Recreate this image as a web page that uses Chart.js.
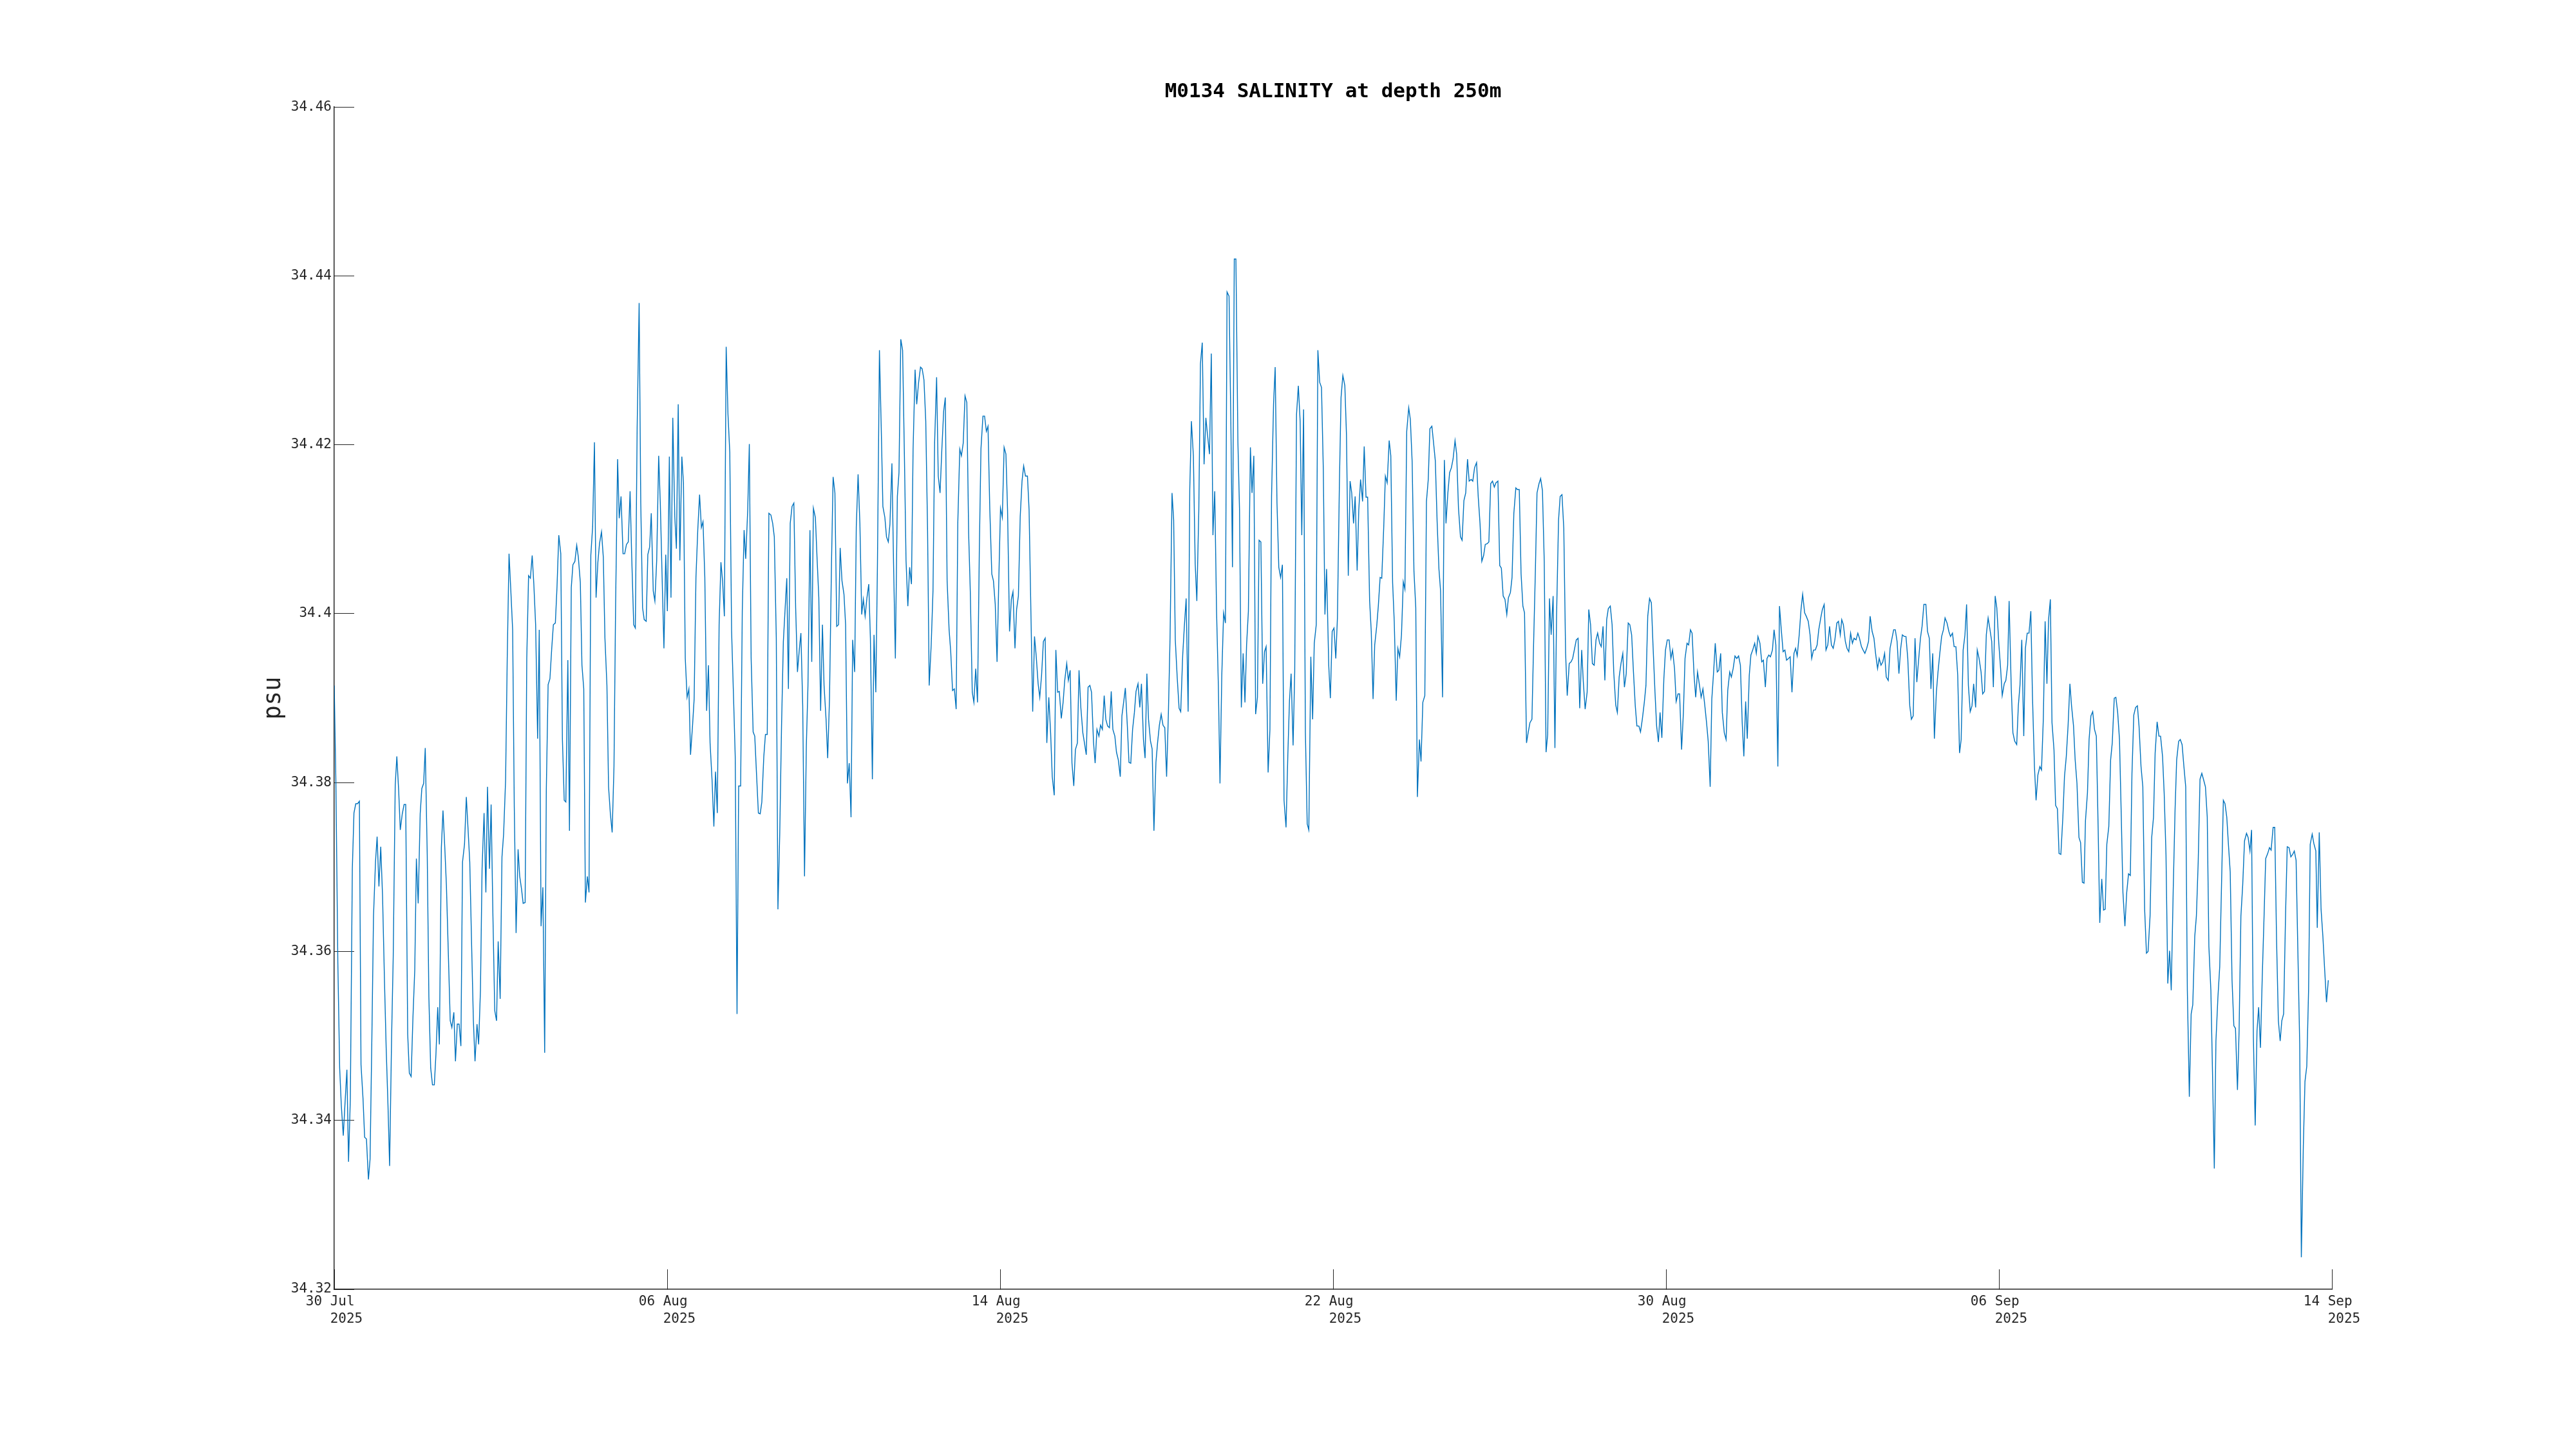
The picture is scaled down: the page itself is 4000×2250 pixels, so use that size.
<!DOCTYPE html>
<html>
<head>
<meta charset="utf-8">
<script src="https://cdn.jsdelivr.net/npm/chart.js@4.4.1/dist/chart.umd.min.js"></script>
<style>
  html, body { margin: 0; padding: 0; background: #ffffff; }
  #wrap { width: 4000px; height: 2250px; }
</style>
</head>
<body>
<div id="wrap"><canvas id="grafica" width="4000" height="2250"></canvas></div>
<script>
// hours since 30 Jul 2025 00:00
const hours = [
  0, 0.9, 2.0, 3.0, 3.9, 5.0, 5.9, 7.0, 7.9, 8.9,
  10.0, 10.9, 11.9, 12.9, 13.9, 14.8, 15.9, 16.8, 17.8, 18.9,
  19.8, 20.8, 21.7, 22.8, 23.7, 24.7, 25.7, 26.7, 27.8, 28.7,
  29.7, 30.6, 31.7, 32.6, 33.7, 34.6, 35.6, 36.5, 37.6, 38.6,
  39.5, 40.6, 41.5, 42.5, 43.5, 44.5, 45.4, 46.4, 47.5, 48.4,
  49.4, 50.3, 51.4, 52.3, 53.3, 54.3, 55.3, 56.2, 57.2, 58.1,
  59.2, 60.1, 61.1, 62.0, 63.1, 64.1, 65.0, 66.1, 67.0, 68.0,
  69.0, 70.0, 70.9, 72.0, 73.0, 73.9, 74.9, 75.9, 76.9, 77.8,
  78.9, 79.8, 80.8, 81.7, 82.8, 83.8, 84.7, 85.8, 86.7, 87.7,
  88.7, 89.7, 90.6, 91.7, 92.7, 93.6, 94.7, 95.6, 96.6, 97.6,
  98.6, 99.5, 100.5, 101.6, 102.5, 103.5, 104.4, 105.5, 106.4, 107.4,
  108.4, 109.4, 110.3, 111.3, 112.4, 113.3, 114.3, 115.3, 116.3, 117.2,
  118.2, 119.2, 120.2, 121.1, 122.2, 123.1, 124.1, 125.2, 126.1, 127.1,
  128.0, 129.1, 130.0, 131.0, 131.9, 133.0, 134.0, 134.9, 136.0, 136.9,
  137.9, 138.8, 139.9, 140.8, 141.8, 142.8, 143.8,
  144.7, 145.7, 146.6, 147.7, 148.7, 149.6, 150.7, 151.6, 152.6, 153.6,
  154.6, 155.5, 156.6, 157.5, 158.5, 159.6, 160.5, 161.5, 162.5, 163.5,
  164.4, 165.5, 166.4, 167.4, 168.5, 169.4, 170.4, 171.3, 172.4, 173.3,
  174.3, 175.2, 176.3, 177.2, 178.2, 179.3, 180.2, 181.2, 182.2, 183.2,
  184.1, 185.2, 186.1, 187.1, 188.2, 189.1, 190.1, 191.0, 192.1, 193.0,
  194.0, 195.0, 196.0, 196.9, 198.0, 198.9, 199.9, 200.9, 201.9, 202.9,
  203.8, 204.8, 205.8, 206.8, 207.7, 208.8, 209.8, 210.7, 211.7, 212.7,
  213.7, 214.6, 215.6, 216.6, 217.6, 218.6, 219.6, 220.7, 221.6, 222.6,
  223.5, 224.6, 225.5, 226.5, 227.4, 228.5, 229.4, 230.4, 231.5, 232.4,
  233.4, 234.4, 235.4, 236.3, 237.4, 238.3, 239.3, 240.2, 241.3, 242.3,
  243.2, 244.3, 245.2, 246.2, 247.2, 248.2, 249.1, 250.1, 251.0, 252.0,
  253.0, 254.0, 255.0, 256.0, 257.0, 257.9, 258.9, 259.9, 260.9, 261.8,
  262.9, 263.9, 264.8, 265.9, 266.8, 267.8, 268.8, 269.8, 270.7, 271.8,
  272.7, 273.7, 274.8, 275.7, 276.7, 277.7, 278.7, 279.6, 280.6, 281.7,
  282.6, 283.6, 284.6, 285.6, 286.5, 287.6, 288.5, 289.5, 290.5, 291.5,
  292.4, 293.4, 294.4, 295.4, 296.3, 297.4, 298.3, 299.3, 300.2, 301.3,
  302.3, 303.2, 304.3, 305.2, 306.2, 307.1, 308.2, 309.1, 310.1, 311.2,
  312.1, 313.1, 314.1, 315.1, 316.0, 317.0, 318.0, 319.0, 319.9, 321.0,
  321.9, 322.9, 324.0, 324.9, 325.9, 326.9, 327.9, 328.8, 329.9, 330.9,
  331.8, 332.9, 333.8, 334.8, 335.8, 336.8, 337.7, 338.7, 339.8, 340.7,
  341.7, 342.7, 343.7, 344.6, 345.7, 346.6, 347.6, 348.6, 349.6, 350.6,
  351.5, 352.6, 353.5, 354.5, 355.5, 356.5, 357.4, 358.5, 359.4, 360.4,
  361.3, 362.3, 363.4, 364.3, 365.3, 366.3, 367.3, 368.2, 369.2, 370.2,
  371.2, 372.1, 373.2, 374.2, 375.1, 376.2, 377.1, 378.1, 379.1, 380.1,
  381.0, 382.0, 383.1, 384.0, 385.0, 386.0, 387.0, 387.9, 389.0, 389.9,
  390.9, 391.9, 392.9, 393.8, 394.9, 395.9, 396.8, 397.9, 398.8, 399.8,
  400.7, 401.8, 402.8, 403.7, 404.8, 405.7, 406.7, 407.7, 408.7, 409.6,
  410.7, 411.6, 412.6, 413.7, 414.6, 415.6, 416.6, 417.6, 418.5, 419.6,
  420.5, 421.5, 422.6, 423.5, 424.5, 425.5,
  426.4, 427.4, 428.4, 429.4, 430.3, 431.4, 432.3, 433.3, 434.4, 435.3,
  436.3, 437.2, 438.3, 439.2, 440.2, 441.2, 442.2, 443.1, 444.2, 445.2,
  446.1, 447.2, 448.1, 449.1, 450.0, 451.1, 452.0, 453.0, 454.1, 455.0,
  456.0, 457.0, 458.0, 459.0, 460.0, 461.0, 461.9, 463.0, 463.9, 464.8,
  465.9, 466.9, 467.8, 468.9, 469.8, 470.8, 471.9, 472.8, 473.7, 474.8,
  475.8, 476.7, 477.8, 478.7, 479.7, 480.7, 481.7, 482.6, 483.7, 484.7,
  485.6, 486.6, 487.6, 488.6, 489.5, 490.5, 491.5, 492.5, 493.4, 494.5,
  495.5, 496.4, 497.4, 498.3, 499.4, 500.3, 501.3, 502.3, 503.3, 504.2,
  505.2, 506.3, 507.2, 508.2, 509.2, 510.2, 511.1, 512.1, 513.1, 514.1,
  515.0, 516.1, 517.1, 518.0, 519.1, 520.0, 521.0, 522.0, 523.0, 524.0,
  524.9, 526.0, 527.0, 527.9, 528.8, 529.9, 530.8, 531.8, 532.8, 533.8,
  534.7, 535.7, 536.7, 537.7, 538.6, 539.7, 540.7, 541.6, 542.7, 543.6,
  544.6, 545.6, 546.6, 547.5, 548.4, 549.6, 550.5, 551.5, 552.5, 553.5,
  554.4, 555.5, 556.4, 557.4, 558.5, 559.4, 560.4,
  561.4, 562.3, 563.3, 564.2, 565.3, 566.2, 567.2, 568.3, 569.2, 570.2,
  571.1, 572.2, 573.1, 574.1, 575.0, 576.1, 577.0, 578.0, 578.9, 580.0,
  580.9, 581.9, 583.0, 583.9, 584.9, 585.8, 586.9, 587.8, 588.8, 589.8,
  590.8, 591.7, 592.7, 593.8, 594.7, 595.7, 596.7, 597.7, 598.6, 599.7,
  600.6, 601.6, 602.7, 603.6, 604.6, 605.5, 606.6, 607.5, 608.5, 609.5,
  610.5, 611.4, 612.5, 613.5, 614.4, 615.4, 616.4, 617.4, 618.3, 619.4,
  620.3, 621.3, 622.4, 623.3, 624.3, 625.3, 626.3, 627.2, 628.3, 629.2,
  630.2, 631.3, 632.2, 633.2, 634.2, 635.2, 636.1, 637.2, 638.1, 639.1,
  640.1, 641.1, 642.0, 643.1, 644.1, 645.0, 646.0, 647.0, 648.0, 648.9,
  650.0, 650.9, 651.9, 653.0, 653.9, 654.9, 655.9, 656.9, 657.8, 658.9,
  659.8, 660.8, 661.9, 662.8, 663.8, 664.7, 665.8, 666.7, 667.7, 668.7,
  669.7, 670.6, 671.6, 672.5, 673.6, 674.6, 675.5, 676.6, 677.5, 678.5,
  679.5, 680.5, 681.4, 682.5, 683.5, 684.4, 685.5, 686.4, 687.4, 688.3,
  689.4, 690.3, 691.3, 692.4, 693.3, 694.3, 695.3, 696.3,
  697.3, 698.2, 699.3, 700.2, 701.2, 702.2, 703.2, 704.1, 705.2, 706.2,
  707.1, 708.2, 709.1, 710.1, 711.1, 712.1, 713.0, 714.0, 715.1, 716.0,
  717.0, 718.0, 719.0, 719.9, 721.0, 721.9, 722.9, 724.0, 724.9, 725.9,
  726.9, 727.9, 728.8, 729.9, 730.8, 731.8, 732.7, 733.7, 734.8, 735.7,
  736.7, 737.7, 738.7, 739.6, 740.7, 741.6, 742.6, 743.5, 744.6, 745.6,
  746.5, 747.6, 748.5, 749.5, 750.4, 751.5, 752.4, 753.4, 754.5, 755.4,
  756.4, 757.4, 758.4, 759.3, 760.4, 761.3, 762.3, 763.2, 764.3, 765.2,
  766.2, 767.1, 768.2, 769.2, 770.1, 771.2, 772.1, 773.1, 774.1, 775.1,
  776.1, 777.1, 778.1, 779.0, 780.0, 780.9, 782.0, 782.9, 783.9, 785.0,
  785.9, 786.8, 787.9, 788.9, 789.8, 790.9, 791.8, 792.8, 793.7, 794.8,
  795.7, 796.7, 797.8, 798.7, 799.7, 800.7, 801.7, 802.6, 803.7, 804.6,
  805.6, 806.7, 807.6, 808.5, 809.6, 810.6, 811.5, 812.6, 813.5, 814.6,
  815.6, 816.5, 817.5, 818.5, 819.5, 820.4, 821.5, 822.4, 823.4, 824.4,
  825.4, 826.4, 827.4, 828.4, 829.3, 830.4, 831.3, 832.3,
  833.1, 834.0, 835.1, 836.0, 837.0, 838.0, 839.0, 839.9, 841.0, 842.0,
  842.9, 844.0, 844.9, 845.9, 846.9, 847.9, 848.8, 849.9, 850.9, 851.8,
  852.9, 853.8, 854.8, 855.8, 856.8, 857.7, 858.8, 859.8, 860.7, 861.8,
  862.7, 863.7, 864.7, 865.7, 866.6, 867.7, 868.6, 869.6, 870.7, 871.6,
  872.6, 873.6, 874.6, 875.5, 876.6, 877.5, 878.5, 879.6, 880.5, 881.5,
  882.4, 883.4, 884.3, 885.4, 886.3, 887.3, 888.3, 889.3, 890.2, 891.3,
  892.3, 893.2, 894.3, 895.2, 896.2, 897.2, 898.2, 899.1, 900.2, 901.2,
  902.1, 903.1, 904.1, 905.1, 906.0, 907.1, 908.0, 909.0, 910.1, 911.0,
  912.0, 913.0, 914.0, 914.9, 916.0, 916.9, 917.9, 918.8, 919.9, 920.9,
  921.8, 922.9, 923.8, 924.8, 925.6, 926.8, 927.7, 928.7, 929.8, 930.7,
  931.6, 932.6, 933.7, 934.6, 935.6, 936.6, 937.6, 938.5, 939.6, 940.5,
  941.5, 942.6, 943.5, 944.5, 945.5, 946.5, 947.4, 948.4, 949.3, 950.4,
  951.3, 952.3, 953.2, 954.2, 955.3, 956.2, 957.2, 958.2, 959.2, 960.1,
  961.2, 962.1, 963.1, 964.2, 965.1, 966.1, 967.0,
  967.8, 968.9, 969.8, 970.8, 971.8, 972.8, 973.8, 974.8, 975.7, 976.8,
  977.8, 978.7, 979.6, 980.7, 981.7, 982.6, 983.7, 984.6, 985.6, 986.6,
  987.6, 988.5, 989.6, 990.6, 991.6, 992.6, 993.5, 994.5, 995.5, 996.5,
  997.4, 998.5, 999.5, 1000.5, 1001.5, 1002.4, 1003.5, 1004.4, 1005.4, 1006.3,
  1007.4, 1008.4, 1009.3, 1010.4, 1011.3, 1012.3, 1013.3, 1014.3, 1015.2, 1016.3,
  1017.3, 1018.2, 1019.3, 1020.2, 1021.2, 1022.2, 1023.2, 1024.1, 1025.2, 1026.2,
  1027.1, 1028.2, 1029.1, 1030.1, 1031.1, 1032.1, 1033.0, 1034.1, 1035.1, 1036.0,
  1037.1, 1038.0, 1039.0, 1039.9, 1041.0, 1042.0, 1042.9, 1044.0, 1044.9, 1045.9,
  1046.8, 1047.8, 1048.8, 1049.8, 1050.7, 1051.8, 1052.7, 1053.7, 1054.7, 1055.7,
  1056.8, 1057.7, 1058.7, 1059.6, 1060.6, 1061.6, 1062.6, 1063.5, 1064.5, 1065.5,
  1066.5, 1067.4, 1068.5, 1069.5, 1070.4, 1071.5, 1072.4, 1073.4, 1074.4, 1075.4,
  1076.3, 1077.3, 1078.4, 1079.3, 1080.3, 1081.3, 1082.3, 1083.2, 1084.2, 1085.2,
  1086.2, 1087.1, 1088.2, 1089.1, 1090.1, 1091.1, 1092.0, 1093.1, 1094.0, 1095.1,
  1095.9, 1097.0, 1098.0, 1099.0, 1100.0, 1101.0, 1102.0
];

// salinity in psu
const salinity = [
  34.3915, 34.3803, 34.3586, 34.3462, 34.3418, 34.3382, 34.3418, 34.346, 34.3351, 34.3426,
  34.3698, 34.3764, 34.3775, 34.3775, 34.3778, 34.3466, 34.3426, 34.338, 34.3378, 34.333,
  34.3354, 34.3498, 34.3642, 34.3706, 34.3736, 34.3677, 34.3724, 34.3666, 34.3562, 34.3486,
  34.3418, 34.3346, 34.3498, 34.3594, 34.3797, 34.3831, 34.3791, 34.3744, 34.3763, 34.3774,
  34.3774, 34.3502, 34.3456, 34.3452, 34.3522, 34.3578, 34.371, 34.3657, 34.3763, 34.3793,
  34.3799, 34.3841, 34.3714, 34.3546, 34.3462, 34.3442, 34.3442, 34.3478, 34.3534, 34.349,
  34.3723, 34.3767, 34.3723, 34.3678, 34.3594, 34.3518, 34.351, 34.3528, 34.347, 34.3514,
  34.3514, 34.3488, 34.3706, 34.3727, 34.3783, 34.3747, 34.3706, 34.361, 34.3518, 34.347,
  34.3514, 34.349, 34.3554, 34.3698, 34.3764, 34.367, 34.3795, 34.3698, 34.3774, 34.3642,
  34.353, 34.3518, 34.3612, 34.3544, 34.3712, 34.3739, 34.3803, 34.3947, 34.4071, 34.4027,
  34.3981, 34.3771, 34.3622, 34.3721, 34.3689, 34.3674, 34.3657, 34.3658, 34.3947, 34.4045,
  34.4042, 34.4069, 34.4035, 34.3987, 34.3852, 34.3981, 34.363, 34.3676, 34.348, 34.3791,
  34.3916, 34.3923, 34.3959, 34.3987, 34.3989, 34.4031, 34.4093, 34.4071, 34.3851, 34.3779,
  34.3777, 34.3945, 34.3743, 34.4031, 34.4058, 34.4062, 34.4081, 34.4067, 34.4037, 34.3939,
  34.3911, 34.3658, 34.3689, 34.367, 34.4069, 34.4103, 34.4203,
  34.4019, 34.4061, 34.4083, 34.4097, 34.4067, 34.3971, 34.3915, 34.3795, 34.3763, 34.3741,
  34.3819, 34.4011, 34.4183, 34.4113, 34.4139, 34.4071, 34.4071, 34.4082, 34.4085, 34.4145,
  34.4067, 34.3987, 34.3983, 34.422, 34.4368, 34.4131, 34.4007, 34.3993, 34.3991, 34.407,
  34.4079, 34.4119, 34.4027, 34.4015, 34.4063, 34.4187, 34.4131, 34.4043, 34.3959, 34.407,
  34.4003, 34.4186, 34.4019, 34.4232, 34.4115, 34.4077, 34.4248, 34.4063, 34.4186, 34.4155,
  34.3947, 34.3901, 34.3911, 34.3833, 34.3867, 34.3899, 34.4043, 34.4099, 34.4141, 34.4102,
  34.4109, 34.4043, 34.3885, 34.3939, 34.3847, 34.3803, 34.3748, 34.3813, 34.3764, 34.3987,
  34.4061, 34.4039, 34.3997, 34.4316, 34.4236, 34.4191, 34.3979, 34.3899, 34.3831, 34.3526,
  34.3796, 34.3796, 34.4003, 34.4099, 34.4065, 34.4123, 34.4201, 34.3947, 34.386, 34.3855,
  34.3809, 34.3764, 34.3763, 34.3777, 34.3831, 34.3857, 34.3857, 34.4119, 34.4117, 34.4107,
  34.4091, 34.3971, 34.365, 34.3739, 34.3867, 34.3967, 34.4003, 34.4042, 34.3911, 34.4107,
  34.4127, 34.4131, 34.4007, 34.3931, 34.3957, 34.3977, 34.3891, 34.3689, 34.3843, 34.3915,
  34.4099, 34.3943, 34.4125, 34.4114, 34.4067, 34.4019, 34.3885, 34.3987, 34.3915, 34.3875,
  34.3829, 34.3899, 34.4059, 34.4162, 34.4143, 34.3985, 34.3987, 34.4078, 34.4039, 34.4023,
  34.3987, 34.3799, 34.3823, 34.3759, 34.3969, 34.3931, 34.4103, 34.4165, 34.4107, 34.3999,
  34.4017, 34.3997, 34.4019, 34.4035, 34.3971, 34.3804, 34.3975, 34.3907, 34.4059, 34.4312,
  34.422, 34.4127, 34.4114, 34.4091, 34.4085, 34.4106, 34.4178, 34.4059, 34.3947, 34.4139,
  34.4167, 34.4325, 34.4312, 34.4187, 34.4063, 34.4009, 34.4055, 34.4035, 34.4195, 34.4289,
  34.4248, 34.4273, 34.4292, 34.429, 34.4277, 34.4228, 34.4099, 34.3915, 34.3963, 34.4027,
  34.4203, 34.428, 34.4163, 34.4143, 34.4195, 34.424, 34.4256, 34.4039, 34.3981, 34.3955,
  34.3909, 34.3911, 34.3887, 34.4107, 34.4195, 34.4187, 34.4202, 34.4258, 34.425, 34.4095,
  34.4027, 34.3907, 34.3895, 34.3935, 34.3895, 34.4075, 34.4195, 34.4234, 34.4234, 34.4216,
  34.4222, 34.4123, 34.4047, 34.4039, 34.4011, 34.3943, 34.4043, 34.4125, 34.4114, 34.4197,
  34.4189, 34.4123, 34.3979, 34.4017, 34.4026, 34.3959, 34.4005, 34.4021, 34.4115, 34.4157,
  34.4175, 34.4163, 34.4163, 34.4123, 34.4003, 34.3884, 34.3973, 34.3951, 34.3917, 34.3901,
  34.3927, 34.3967, 34.3971, 34.3847, 34.3901, 34.3859, 34.3807, 34.3785, 34.3957, 34.3907,
  34.3908, 34.3876, 34.3895, 34.3921, 34.3941, 34.3921, 34.3933, 34.3823, 34.3796, 34.3839,
  34.3847, 34.3933, 34.3889, 34.3859, 34.3847, 34.3833, 34.3913, 34.3915, 34.3907, 34.3848,
  34.3823, 34.3863, 34.3855, 34.3868, 34.3863, 34.3903,
  34.3875, 34.3867, 34.3865, 34.3908, 34.3863, 34.3855, 34.3836, 34.3827, 34.3807, 34.3879,
  34.3896, 34.3912, 34.3867, 34.3824, 34.3823, 34.3863, 34.3883, 34.3908, 34.3917, 34.3889,
  34.3917, 34.3851, 34.3829, 34.3929, 34.3875, 34.3849, 34.384, 34.3743, 34.3824, 34.3847,
  34.3868, 34.3881, 34.3868, 34.3865, 34.3807, 34.3883, 34.3971, 34.4143, 34.4111, 34.3969,
  34.3923, 34.3888, 34.3884, 34.3951, 34.3985, 34.4018, 34.3884, 34.4147, 34.4228, 34.4187,
  34.4059, 34.4015, 34.4123, 34.4296, 34.4321, 34.4177, 34.4232, 34.4212, 34.4189, 34.4308,
  34.4093, 34.4145, 34.4003, 34.3915, 34.3799, 34.3927, 34.4001, 34.3989, 34.4381, 34.4376,
  34.4228, 34.4055, 34.442, 34.442, 34.4203, 34.4123, 34.3889, 34.3953, 34.3895, 34.3963,
  34.4003, 34.4197, 34.4143, 34.4187, 34.3881, 34.3901, 34.4087, 34.4085, 34.3917, 34.3955,
  34.3961, 34.3812, 34.3863, 34.4139, 34.4248, 34.4292, 34.4131, 34.4055, 34.4043, 34.4058,
  34.3779, 34.3747, 34.3833, 34.3897, 34.3929, 34.3844, 34.3931, 34.4236, 34.427, 34.4228,
  34.4093, 34.4242, 34.3859, 34.3751, 34.3744, 34.3949, 34.3875, 34.3965, 34.3987, 34.4312,
  34.4274, 34.4268, 34.4171, 34.3999, 34.4053, 34.3939, 34.39, 34.3979, 34.3983, 34.3947,
  34.3995, 34.4155, 34.4256, 34.4282, 34.427, 34.4212, 34.4045,
  34.4157, 34.4143, 34.4107, 34.4139, 34.4051, 34.4123, 34.4159, 34.4133, 34.4198, 34.4138,
  34.4138, 34.4015, 34.3979, 34.3899, 34.3963, 34.3985, 34.4009, 34.4043, 34.4042, 34.4103,
  34.4163, 34.4155, 34.4205, 34.4187, 34.4037, 34.3991, 34.3897, 34.3959, 34.3949, 34.3975,
  34.4038, 34.4029, 34.4216, 34.4244, 34.423, 34.418, 34.405, 34.4007, 34.3783, 34.3851,
  34.3825, 34.3895, 34.3903, 34.4133, 34.4159, 34.4219, 34.4222, 34.4203, 34.4181, 34.4109,
  34.4053, 34.4027, 34.3901, 34.4182, 34.4107, 34.4142, 34.4167, 34.4173, 34.4183, 34.4205,
  34.4189, 34.4125, 34.4091, 34.4087, 34.4134, 34.4143, 34.4183, 34.4157, 34.4159, 34.4157,
  34.4173, 34.4179, 34.4139, 34.4107, 34.4062, 34.4069, 34.4082, 34.4083, 34.4085, 34.4154,
  34.4157, 34.415, 34.4155, 34.4157, 34.4057, 34.4054, 34.4021, 34.4017, 34.3999, 34.4019,
  34.4025, 34.4043, 34.4119, 34.4149, 34.4147, 34.4147, 34.4047, 34.4009, 34.4001, 34.3847,
  34.3859, 34.3871, 34.3875, 34.3963, 34.4051, 34.4143, 34.4154, 34.416, 34.4146, 34.4062,
  34.3836, 34.3857, 34.4018, 34.3975, 34.4021, 34.3841, 34.3997, 34.4111, 34.4139, 34.4141,
  34.4101, 34.3953, 34.3903, 34.3941, 34.3943, 34.3947, 34.3959, 34.3969, 34.3971, 34.3888,
  34.3957, 34.3919, 34.3887, 34.3907, 34.4005, 34.3987, 34.3941, 34.3939,
  34.3969, 34.3977, 34.3965, 34.3961, 34.3985, 34.3921, 34.3993, 34.4006, 34.4009, 34.3987,
  34.3931, 34.3892, 34.3883, 34.3925, 34.3941, 34.3953, 34.3913, 34.3929, 34.3989, 34.3987,
  34.3975, 34.3931, 34.3891, 34.3867, 34.3867, 34.386, 34.3875, 34.3895, 34.3915, 34.3997,
  34.4018, 34.4013, 34.3963, 34.3907, 34.3867, 34.3848, 34.3883, 34.3853, 34.3923, 34.3957,
  34.3969, 34.3969, 34.3947, 34.3957, 34.3935, 34.3896, 34.3905, 34.3905, 34.3839, 34.3883,
  34.3947, 34.3965, 34.3963, 34.3981, 34.3977, 34.3927, 34.3901, 34.3931, 34.3915, 34.3901,
  34.3911, 34.3892, 34.3871, 34.3849, 34.3795, 34.3899, 34.3931, 34.3965, 34.3931, 34.3933,
  34.3953, 34.3883, 34.3859, 34.3851, 34.3909, 34.3931, 34.3925, 34.3935, 34.395, 34.3947,
  34.395, 34.3939, 34.3871, 34.3831, 34.3896, 34.3852, 34.3927, 34.3951, 34.3957, 34.3965,
  34.3953, 34.3973, 34.3965, 34.3943, 34.3945, 34.3913, 34.3947, 34.3951, 34.3949, 34.3957,
  34.3981, 34.3963, 34.3819, 34.4009, 34.3981, 34.3955, 34.3957, 34.3945, 34.3947, 34.3949,
  34.3907, 34.3953, 34.3959, 34.395, 34.3975, 34.4005, 34.4023, 34.4001, 34.3997, 34.3991,
  34.3975, 34.3947, 34.3957, 34.3957, 34.3963, 34.3981, 34.3995, 34.4005, 34.4011, 34.3957,
  34.3963, 34.3985, 34.3963, 34.3959, 34.3969, 34.3989, 34.3991, 34.3975,
  34.3993, 34.3987, 34.3967, 34.3959, 34.3955, 34.3977, 34.3965, 34.3971, 34.3969, 34.3977,
  34.3971, 34.3961, 34.3957, 34.3953, 34.3959, 34.3967, 34.3997, 34.3979, 34.3971, 34.3953,
  34.3935, 34.3947, 34.3939, 34.3943, 34.3953, 34.3925, 34.3921, 34.3959, 34.3969, 34.3981,
  34.3981, 34.3967, 34.3929, 34.3959, 34.3975, 34.3973, 34.3973, 34.3947, 34.3891, 34.3875,
  34.3879, 34.3971, 34.3919, 34.3943, 34.3971, 34.3985, 34.4011, 34.4011, 34.3979, 34.3971,
  34.3911, 34.3953, 34.3852, 34.3907, 34.3931, 34.3953, 34.3973, 34.3981, 34.3995, 34.3989,
  34.3979, 34.3973, 34.3977, 34.3961, 34.3961, 34.3927, 34.3835, 34.3851, 34.3957, 34.3975,
  34.4011, 34.3915, 34.3884, 34.3891, 34.3917, 34.3889, 34.3957, 34.3947, 34.3931, 34.3905,
  34.3908, 34.3975, 34.3995, 34.3983, 34.3967, 34.3913, 34.4021, 34.4007, 34.3965, 34.3935,
  34.3903, 34.3917, 34.3921, 34.3939, 34.4015, 34.3911, 34.3859, 34.3849, 34.3845, 34.3891,
  34.3915, 34.3969, 34.3855, 34.3959, 34.3977, 34.3977, 34.4003, 34.3903, 34.3819, 34.3779,
  34.3809, 34.3819, 34.3815, 34.3875, 34.3991, 34.3917, 34.3993, 34.4017, 34.3871, 34.3839,
  34.3773, 34.3769, 34.3716, 34.3715, 34.3759, 34.3807, 34.3831, 34.3868, 34.3917, 34.3891,
  34.3867, 34.3827, 34.3799, 34.3735, 34.3729, 34.3682, 34.3681,
  34.3755, 34.3788, 34.3851, 34.3879, 34.3884, 34.3863, 34.3855, 34.3747, 34.3634, 34.3686,
  34.3649, 34.365, 34.3727, 34.3748, 34.3827, 34.3847, 34.39, 34.3901, 34.3883, 34.3851,
  34.3759, 34.367, 34.363, 34.367, 34.3692, 34.369, 34.3811, 34.388, 34.3889, 34.3891,
  34.3867, 34.3819, 34.3795, 34.365, 34.3598, 34.36, 34.3642, 34.3735, 34.3759, 34.3835,
  34.3872, 34.3855, 34.3855, 34.3831, 34.3787, 34.3715, 34.3562, 34.3601, 34.3554, 34.3674,
  34.3767, 34.3827, 34.3849, 34.3851, 34.3845, 34.3819, 34.3795, 34.3554, 34.3428, 34.3526,
  34.3537, 34.3618, 34.3642, 34.3706, 34.3804, 34.3811, 34.3804, 34.3795, 34.3759, 34.3606,
  34.3554, 34.3458, 34.3343, 34.3494, 34.3546, 34.3582, 34.367, 34.3779, 34.3775, 34.3759,
  34.3727, 34.3694, 34.3566, 34.3512, 34.3509, 34.3436, 34.3506, 34.3642, 34.3679, 34.3731,
  34.374, 34.3735, 34.3719, 34.3744, 34.3498, 34.3394, 34.3506, 34.3534, 34.3486, 34.357,
  34.3642, 34.371, 34.3716, 34.3723, 34.372, 34.3747, 34.3747, 34.3614, 34.3518, 34.3494,
  34.3518, 34.3526, 34.3646, 34.3724, 34.3723, 34.3712, 34.3715, 34.3719, 34.3708, 34.3598,
  34.349, 34.3238, 34.337, 34.3446, 34.3464, 34.3554, 34.3727, 34.3739, 34.3728, 34.3719,
  34.3628, 34.3741, 34.365, 34.3618, 34.3578, 34.354, 34.3566
];

// axis ticks
const xTickHours = [0, 184, 368, 552, 736, 920, 1104];
const xTickLabels = [
  ['30 Jul ', '   2025'],
  ['06 Aug ', '   2025'],
  ['14 Aug ', '   2025'],
  ['22 Aug ', '   2025'],
  ['30 Aug ', '   2025'],
  ['06 Sep ', '   2025'],
  ['14 Sep ', '   2025']
];
const yTickValues = [34.32, 34.34, 34.36, 34.38, 34.4, 34.42, 34.44, 34.46];
const yTickLabels = ['34.32', '34.34', '34.36', '34.38', '34.4', '34.42', '34.44', '34.46'];

const MONO = "'DejaVu Sans Mono', monospace";
const AXIS = '#262626';

document.addEventListener('DOMContentLoaded', function () {
    const n = Math.min(hours.length, salinity.length);
    const puntos = [];
    for (let i = 0; i < n; i++) {
        puntos.push({x: hours[i], y: salinity[i]});
    }

    const ctx = document.getElementById('grafica').getContext('2d');
    new Chart(ctx, {
        type: 'line',
        data: {
            datasets: [{
                label: 'salinity',
                data: puntos,
                borderColor: '#0072BD',
                borderWidth: 1.4,
                pointRadius: 0,
                tension: 0,
                fill: false
            }]
        },
        options: {
            responsive: false,
            animation: false,
            devicePixelRatio: 1,
            layout: {
                padding: {top: 101, left: 319, right: 179, bottom: 148}
            },
            plugins: {
                legend: {display: false},
                tooltip: {enabled: false},
                title: {
                    display: true,
                    text: 'M0134 SALINITY at depth 250m',
                    color: '#000000',
                    font: {family: MONO, size: 31, weight: 'bold', lineHeight: 1.2},
                    padding: {top: 23, bottom: 5}
                }
            },
            scales: {
                x: {
                    type: 'linear',
                    min: 0,
                    max: 1104,
                    afterBuildTicks: function (scale) {
                        scale.ticks = xTickHours.map(v => ({value: v}));
                    },
                    afterFit: function (scale) { scale.height = 100; },
                    ticks: {
                        autoSkip: false,
                        maxRotation: 0,
                        minRotation: 0,
                        padding: 37,
                        color: AXIS,
                        font: {family: MONO, size: 21, lineHeight: 1.3},
                        callback: function (value, index) { return xTickLabels[index]; }
                    },
                    grid: {drawOnChartArea: false, drawTicks: true, tickLength: -31, color: AXIS, lineWidth: 1},
                    border: {display: true, color: AXIS, width: 1.5}
                },
                y: {
                    type: 'linear',
                    min: 34.32,
                    max: 34.46,
                    afterBuildTicks: function (scale) {
                        scale.ticks = yTickValues.map(v => ({value: v}));
                    },
                    afterFit: function (scale) { scale.width = 200; },
                    ticks: {
                        autoSkip: false,
                        padding: 35,
                        color: AXIS,
                        font: {family: MONO, size: 21},
                        callback: function (value, index) { return yTickLabels[index]; }
                    },
                    grid: {drawOnChartArea: false, drawTicks: true, tickLength: -31, color: AXIS, lineWidth: 1},
                    border: {display: true, color: AXIS, width: 1.5},
                    title: {
                        display: true,
                        text: 'psu',
                        color: AXIS,
                        font: {family: MONO, size: 37, lineHeight: 1.2},
                        padding: {top: 84, bottom: 0}
                    }
                },
                // empty right-hand box so the title centres over the plot area
                derecha: {
                    type: 'linear',
                    position: 'right',
                    min: 0,
                    max: 1,
                    afterFit: function (scale) { scale.width = 200; },
                    ticks: {display: false},
                    grid: {display: false},
                    border: {display: false}
                }
            }
        }
    });
});
</script>
</body>
</html>
